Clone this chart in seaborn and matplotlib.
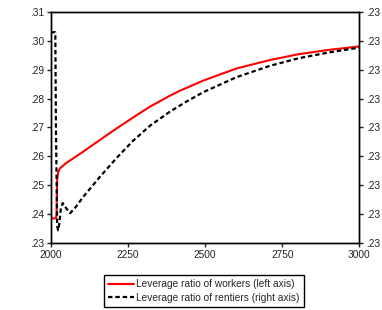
import matplotlib
matplotlib.use("Agg")
import matplotlib.pyplot as plt
import matplotlib.ticker as mticker
import seaborn as sns
import pandas as pd

# leverage ratio of workers (left axis)
workers_year = [2000, 2016, 2018, 2020, 2023, 2029, 2050, 2105, 2160, 2213, 2267,
                2321, 2386, 2418, 2494, 2550, 2602, 2710, 2802, 2900, 3000]
workers_lev = [.2386, .2386, .2400, .2520, .2545, .2559, .2578, .2617, .2658, .2697, .2735,
               .2772, .2810, .2827, .2862, .2884, .2904, .2933, .2953, .2968, .2980]

# leverage ratio of rentiers (right axis)
rentiers_year = [2000, 2014, 2016, 2020, 2023, 2026, 2032, 2038, 2050, 2062, 2080, 2105,
                 2159, 2213, 2267, 2321, 2386, 2440, 2494, 2602, 2710, 2802, 2900, 3000]
rentiers_lev = [.233645, .233645, .2320, .2303, .230225, .2303, .2306, .230695, .2306,
                .23052, .230625, .230805, .23115, .231475, .231775, .23203, .232275,
                .23245, .23261, .23287, .233065, .233195, .233295, .23338]

left_ticks = [.23, .24, .25, .26, .27, .28, .29, .30, .31]
right_ticks = [.2300, .2305, .2310, .2315, .2320, .2325, .2330, .2335, .2340]
x_ticks = [2000, 2250, 2500, 2750, 3000]

workers = pd.DataFrame({"year": workers_year, "lev": workers_lev})
rentiers = pd.DataFrame({"year": rentiers_year, "lev": rentiers_lev})

sns.set_style("ticks")
plt.rcParams["font.family"] = ["Liberation Sans", "DejaVu Sans"]
plt.rcParams["font.size"] = 7.3

fig = plt.figure(figsize=(3.82, 3.10), dpi=100)
ax = fig.add_axes([51 / 382, 1 - 243.3 / 310, (359.3 - 51) / 382, (243.3 - 11.7) / 310])
ax2 = ax.twinx()

sns.lineplot(data=workers, x="year", y="lev", ax=ax, color="#ff0000", linewidth=1.5,
             label="Leverage ratio of workers (left axis)", legend=False)
sns.lineplot(data=rentiers, x="year", y="lev", ax=ax2, color="black", linewidth=1.6,
             label="Leverage ratio of rentiers (right axis)", legend=False)
ax2.lines[0].set_dashes((2, 1.3))

ax.set_xlim(2000, 3000)
ax.set_ylim(.23, .31)
ax2.set_ylim(.2300, .2340)
ax.set_xticks(x_ticks)
ax.set_yticks(left_ticks)
ax2.set_yticks(right_ticks)
# two decimals, no leading zero (right axis rounds to .23 everywhere)
fmt = mticker.FuncFormatter(lambda v, p: f"{v:.2f}".lstrip("0"))
ax.yaxis.set_major_formatter(fmt)
ax2.yaxis.set_major_formatter(fmt)
ax.set_xlabel("")
ax.set_ylabel("")
ax2.set_ylabel("")

for a in (ax, ax2):
    for s in a.spines.values():
        s.set_visible(True)
        s.set_linewidth(1.0)
        s.set_color("black")
    a.tick_params(direction="out", length=3, width=1, pad=2, colors="#222222")

h1, l1 = ax.get_legend_handles_labels()
h2, l2 = ax2.get_legend_handles_labels()
fig.legend(h1 + h2, l1 + l2, loc="upper center", bbox_to_anchor=(0.534, 0.112),
           frameon=True, fancybox=False, edgecolor="black", framealpha=1,
           handlelength=2.6, handletextpad=0.2, borderpad=0.4, labelspacing=0.35,
           borderaxespad=0, fontsize=7.3)

fig.savefig("out.png", dpi=100)
